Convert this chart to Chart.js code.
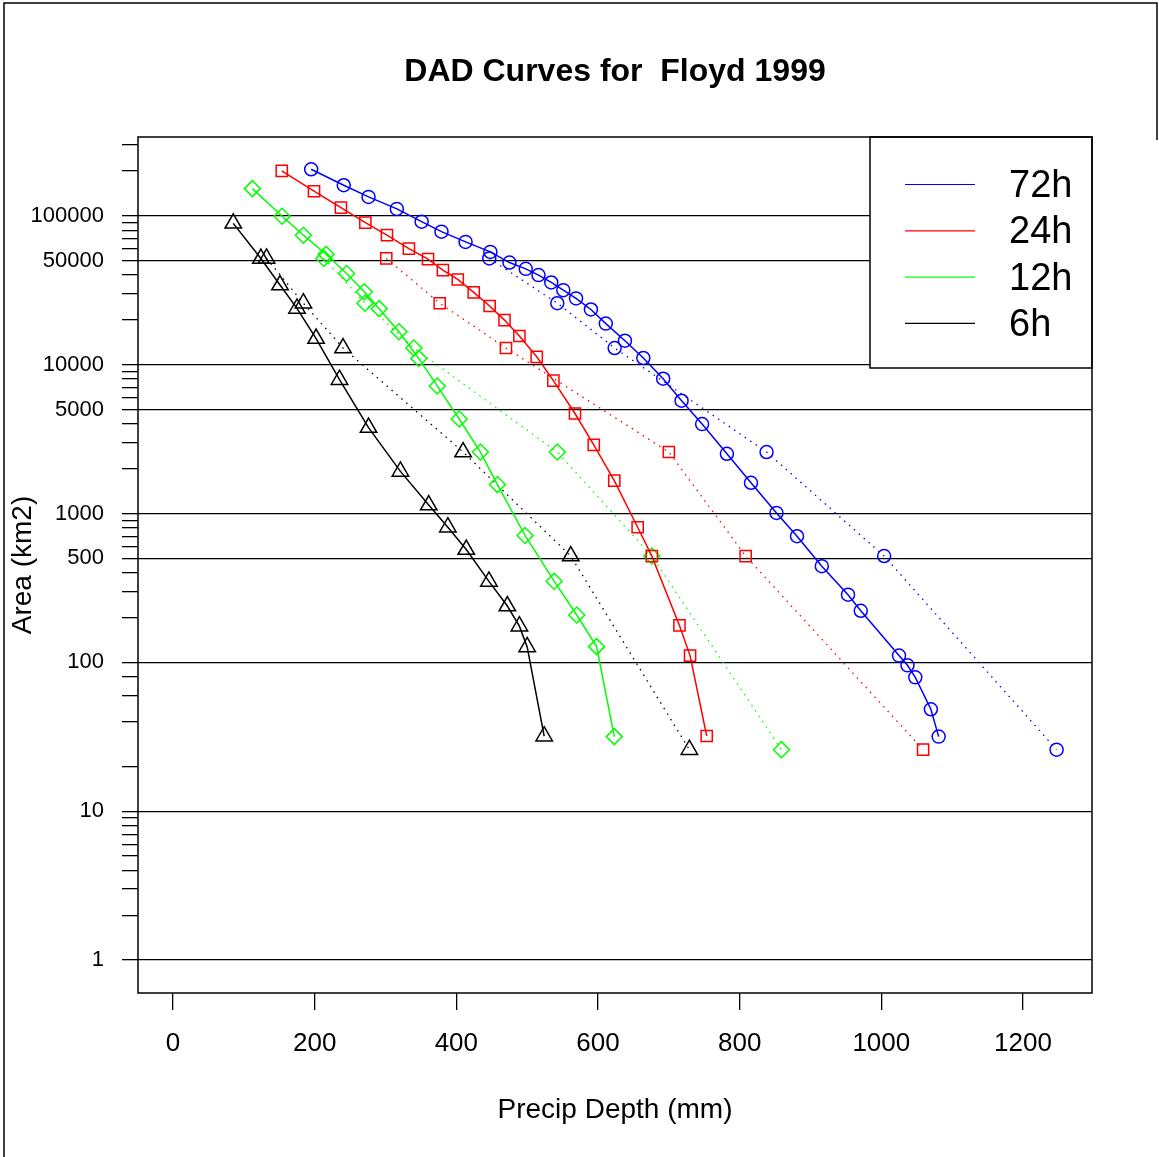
<!DOCTYPE html>
<html>
<head>
<meta charset="utf-8">
<title>DAD Curves for Floyd 1999</title>
<script src="https://cdn.jsdelivr.net/npm/chart.js@4.4.1/dist/chart.umd.min.js"></script>
<style>
  html, body { margin: 0; padding: 0; background: #fff; }
  #wrap { width: 1159px; height: 1157px; }
</style>
</head>
<body>
<div id="wrap"><canvas id="dad" width="1159" height="1157"></canvas></div>
<script>
// durations, colours and plotting symbols (pch 1, 0, 5, 2)
const durations = ['72h', '24h', '12h', '6h'];
const colors = ['#0000ff', '#ff0000', '#00ff00', '#000000'];
const markers = ['circle', 'rect', 'rectRot', 'triangle'];
const markerSize = [6.5, 7.9, 8, 9.5];

// storm-centred depth-area curves, depth in mm, area in km2
const depth72 = [195, 241, 276, 316, 351, 379, 413, 448, 475, 498, 516, 534, 551, 569, 590, 611, 638, 664, 692, 718, 747, 782, 816, 852, 881, 916, 953, 971, 1025, 1037, 1048, 1070, 1081];
const area72 = [205800, 160700, 134200, 111400, 91500, 78400, 66900, 57300, 48600, 44100, 40000, 35700, 31700, 27900, 23500, 18900, 14500, 11100, 8050, 5730, 3990, 2520, 1610, 1010, 704, 443, 285, 222, 111, 95.5, 79.3, 48.4, 31.7];

const depth24 = [153.5, 199, 237, 271.5, 302, 333, 360, 381, 402, 424.5, 447, 468, 489, 513.5, 537, 567.5, 594, 623, 656, 676, 715, 730, 753.5];
const area24 = [200500, 146500, 113700, 90200, 74200, 60300, 51200, 43200, 37400, 30600, 24800, 19950, 15600, 11300, 7810, 4700, 2890, 1665, 809, 517, 177, 111, 32];

const depth12 = [112, 154, 184, 216, 245, 270, 291, 319, 347, 373, 404, 434, 458, 497, 538, 570, 598, 623];
const area12 = [152500, 99500, 74200, 55300, 41000, 30900, 23800, 16650, 11000, 7200, 4320, 2590, 1565, 712, 351, 208, 127.5, 31.7];

const depth6 = [85, 124, 151, 175, 202, 235, 276, 321, 361, 388, 414, 446, 472, 489, 500, 524];
const area6 = [89100, 51700, 34300, 23900, 15000, 7930, 3780, 1920, 1140, 809, 573, 350, 239, 175, 127, 31.9];

// values at the standard areas (10 to 20000 sq mi), dotted curves
const stdArea = [51800, 25900, 12950, 2590, 518, 25.9];
const stdDepth72 = [446.5, 542.5, 623.5, 838, 1004, 1247.5];
const stdDepth24 = [301, 376.5, 470, 700, 808.5, 1059];
const stdDepth12 = [213, 271, 340, 542.5, 676, 859];
const stdDepth6 = [132, 184, 240, 409.5, 561.5, 729];

// axis ticks
const xTicks = [0, 200, 400, 600, 800, 1000, 1200];
const yLabelled = [1, 10, 100, 500, 1000, 5000, 10000, 50000, 100000];
const yMinor = [2, 3, 4, 5, 6, 7, 8, 9, 20, 40, 60, 80,
  200, 300, 400, 600, 700, 800, 900,
  2000, 3000, 4000, 6000, 7000, 8000, 9000,
  20000, 30000, 40000, 60000, 70000, 80000, 90000,
  200000, 300000];

const solid = [[depth72, area72], [depth24, area24], [depth12, area12], [depth6, area6]];
const dotted = [stdDepth72, stdDepth24, stdDepth12, stdDepth6];

function pts(xs, ys) {
  return xs.map((x, i) => ({ x: x, y: ys[i] }));
}

const datasets = [];
solid.forEach((s, i) => {
  datasets.push({
    label: durations[i],
    data: pts(s[0], s[1]),
    showLine: true,
    borderColor: colors[i],
    borderWidth: 1.5,
    pointStyle: markers[i],
    pointRadius: markerSize[i],
    pointBorderColor: colors[i],
    pointBackgroundColor: 'rgba(0,0,0,0)',
    pointBorderWidth: 1.5
  });
});
dotted.forEach((d, i) => {
  datasets.push({
    label: durations[i] + ' std',
    data: pts(d, stdArea),
    showLine: true,
    borderColor: colors[i],
    borderWidth: 1.3,
    borderDash: [1.5, 5],
    pointStyle: markers[i],
    pointRadius: markerSize[i],
    pointBorderColor: colors[i],
    pointBackgroundColor: 'rgba(0,0,0,0)',
    pointBorderWidth: 1.5
  });
});

const FONT = "'Liberation Sans', Arial, sans-serif";

// page frame, plot box and the boxed legend
const decor = {
  id: 'decor',
  beforeDraw(chart) {
    const c = chart.ctx;
    c.save();
    c.fillStyle = '#fff';
    c.fillRect(0, 0, chart.width, chart.height);
    c.strokeStyle = '#000';
    c.lineWidth = 1.5;
    c.beginPath();
    c.moveTo(4, chart.height);
    c.lineTo(4, 3);
    c.lineTo(1157, 3);
    c.lineTo(1157, 140);
    c.stroke();
    c.restore();
  },
  afterDraw(chart) {
    const a = chart.chartArea;
    const c = chart.ctx;
    c.save();
    // legend
    const lx = 870, ly = a.top, lw = a.right - 870, lh = 231;
    c.fillStyle = '#fff';
    c.fillRect(lx, ly, lw, lh);
    c.strokeStyle = '#000';
    c.lineWidth = 1.5;
    c.strokeRect(lx, ly, lw, lh);
    c.font = '38px ' + FONT;
    c.textBaseline = 'middle';
    c.textAlign = 'left';
    durations.forEach((d, i) => {
      const y = ly + 47.5 + i * 46.3;
      c.strokeStyle = colors[i];
      c.lineWidth = 1.2;
      c.beginPath();
      c.moveTo(905, y);
      c.lineTo(975, y);
      c.stroke();
      c.fillStyle = '#000';
      c.fillText(d, 1009, y + 2);
    });
    // plot box
    c.strokeStyle = '#000';
    c.lineWidth = 1.5;
    c.strokeRect(a.left, a.top, a.right - a.left, a.bottom - a.top);
    c.restore();
  }
};

new Chart(document.getElementById('dad'), {
  type: 'scatter',
  data: { datasets: datasets },
  options: {
    responsive: false,
    animation: false,
    devicePixelRatio: 1,
    layout: { padding: { top: 0, right: 67, bottom: 0, left: 0 } },
    plugins: {
      legend: { display: false },
      tooltip: { enabled: false },
      title: {
        display: true,
        fullSize: false,
        text: 'DAD Curves for  Floyd 1999',
        color: '#000',
        font: { family: FONT, size: 32, weight: 'bold' },
        padding: { top: 52.8, bottom: 45.8 }
      }
    },
    scales: {
      x: {
        type: 'linear',
        min: -49.5,
        max: 1297.5,
        afterBuildTicks: s => { s.ticks = xTicks.map(v => ({ value: v })); },
        afterFit: s => { s.height = 164; },
        border: { display: false },
        grid: { drawOnChartArea: false, drawTicks: true, tickLength: 17, color: '#000', lineWidth: 1.3 },
        ticks: {
          autoSkip: false,
          maxRotation: 0,
          padding: 18,
          color: '#000',
          font: { family: FONT, size: 26 },
          callback: v => String(v)
        },
        title: {
          display: true,
          text: 'Precip Depth (mm)',
          color: '#000',
          font: { family: FONT, size: 28 },
          padding: { top: 0, bottom: 29.5 }
        }
      },
      y: {
        type: 'logarithmic',
        min: 0.6098,
        max: 339000,
        afterBuildTicks: s => {
          s.ticks = yLabelled.concat(yMinor).sort((p, q) => p - q).map(v => ({ value: v }));
        },
        afterFit: s => { s.width = 138; },
        border: { display: false },
        grid: {
          drawTicks: true,
          tickLength: 16,
          lineWidth: 1.3,
          color: ctx => (ctx.tick && yLabelled.includes(ctx.tick.value)) ? '#000' : 'rgba(0,0,0,0)',
          tickColor: '#000'
        },
        ticks: {
          autoSkip: false,
          padding: 18,
          color: '#000',
          font: { family: FONT, size: 22 },
          callback: v => yLabelled.includes(v) ? String(v) : ''
        },
        title: {
          display: true,
          text: 'Area (km2)',
          color: '#000',
          font: { family: FONT, size: 28 },
          padding: { top: 6.5, bottom: 0 }
        }
      }
    }
  },
  plugins: [decor]
});
</script>
</body>
</html>
